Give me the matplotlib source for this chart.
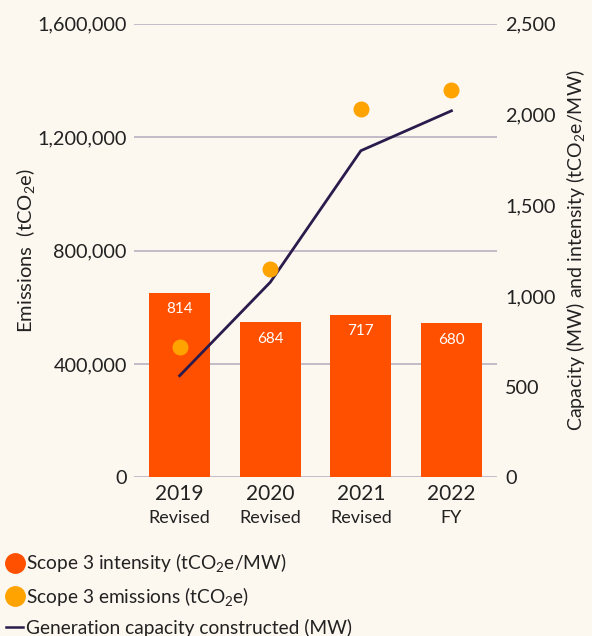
import matplotlib
matplotlib.use("Agg")
import matplotlib.pyplot as plt
from matplotlib.lines import Line2D
import numpy as np

plt.rcParams['font.family'] = ['Lato', 'DejaVu Sans']
plt.rcParams['mathtext.fontset'] = 'custom'
plt.rcParams['mathtext.rm'] = 'Lato'
plt.rcParams['mathtext.default'] = 'regular'

# data
years = ['2019', '2020', '2021', '2022']
year_notes = ['Revised', 'Revised', 'Revised', 'FY']
intensity = [814, 684, 717, 680]                       # tCO2e/MW (bars)
emissions = [459000, 734000, 1299000, 1367000]         # tCO2e (dots)
capacity = [560, 1075, 1800, 2020]                     # MW (line)

left_ticks = [0, 400000, 800000, 1200000, 1600000]
right_ticks = [0, 500, 1000, 1500, 2000, 2500]

bg = '#FDF8EF'
bar_col = '#FF5000'
dot_col = '#FFA300'
line_col = '#2B1B4D'
grid_col = '#B9B0C2'
txt_col = '#222222'

fig = plt.figure(figsize=(5.92, 6.36), dpi=100, facecolor=bg)
ax = fig.add_axes([0.2269, 0.2495, 0.6122, 0.7132])
ax.set_facecolor(bg)
x = np.arange(len(years))

# host axis: emissions scale + grid
ax.set_ylim(0, 1600000)
ax.set_xlim(-0.5, 3.5)
ax.set_yticks(left_ticks)
ax.set_yticklabels([f'{v:,}' for v in left_ticks])
ax.grid(axis='y', color=grid_col, linewidth=1.2)
ax.tick_params(axis='y', length=0, pad=5.5, labelsize=14.3, colors=txt_col)
ax.tick_params(axis='x', length=0, pad=5, labelsize=15, colors=txt_col)
ax.set_xticks(x)
ax.set_xticklabels(years)
for s in ax.spines.values():
    s.set_visible(False)
ax.set_ylabel('Emissions  (tCO$_2$e)', fontsize=14.5, color=txt_col, labelpad=0)

for xi, note in zip(x, year_notes):
    ax.text(xi, -0.072, note, transform=ax.get_xaxis_transform(),
            ha='center', va='top', fontsize=13, color=txt_col)

# bars: intensity on its own hidden scale
axb = ax.twinx()
axb.set_ylim(0, 2000)
axb.bar(x, intensity, width=0.67, color=bar_col)
for xi, v in zip(x, intensity):
    axb.annotate(str(v), (xi, v), xytext=(0, -12), textcoords='offset points',
                 ha='center', va='center', color='white', fontsize=11)
axb.axis('off')

# right axis: capacity line
axr = ax.twinx()
axr.set_ylim(0, 2500)
axr.set_yticks(right_ticks)
axr.set_yticklabels([f'{v:,}' for v in right_ticks])
axr.tick_params(axis='y', length=0, pad=6, labelsize=14.3, colors=txt_col)
axr.plot(x, capacity, color=line_col, linewidth=2)
for s in axr.spines.values():
    s.set_visible(False)
axr.set_ylabel('Capacity (MW) and intensity (tCO$_2$e/MW)', fontsize=14,
               color=txt_col, labelpad=6)

# dots: emissions on the left scale
axd = ax.twinx()
axd.set_ylim(ax.get_ylim())
axd.plot(x, emissions, 'o', color=dot_col, markersize=10.5)
axd.axis('off')

handles = [
    Line2D([], [], marker='o', linestyle='', color=bar_col, markersize=14),
    Line2D([], [], marker='o', linestyle='', color=dot_col, markersize=14),
    Line2D([], [], color=line_col, linewidth=1.8),
]
labels = ['Scope 3 intensity (tCO$_2$e/MW)',
          'Scope 3 emissions (tCO$_2$e)',
          'Generation capacity constructed (MW)']
leg = fig.legend(handles, labels, loc='upper left', bbox_to_anchor=(-0.002, 0.145),
                 frameon=False, fontsize=13.8, handlelength=0.85,
                 handletextpad=0.15, labelspacing=0.55, borderaxespad=0)
for t in leg.get_texts():
    t.set_color(txt_col)

fig.savefig('out.png', dpi=100, facecolor=bg)
